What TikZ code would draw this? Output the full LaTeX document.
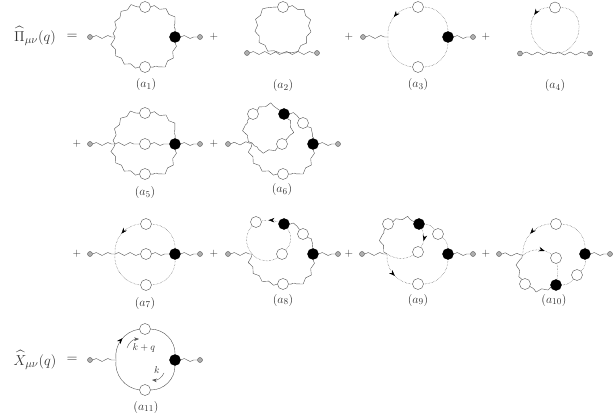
\documentclass[tikz,border=0pt]{standalone}
\usepackage{amsmath}
\usepackage{amssymb}
\usepackage{xcolor}
\usepackage{tikz}
\usetikzlibrary{arrows.meta, decorations.pathmorphing, decorations.markings}
\definecolor{linea}{RGB}{85,85,85}
\definecolor{extgris}{RGB}{175,175,175}

\begin{document}
\begin{tikzpicture}[x=1pt, y=-1pt, >=Stealth, color=linea, line width=.4pt, line join=round,
        gluon/.style={decorate, decoration={snake, segment length=11.5pt, amplitude=1.5pt}},
        ghost/.style={densely dotted, line width=.45pt},
        blob/.style={circle, draw=linea, fill=white, inner sep=0pt, minimum size=11pt},
        vert/.style={circle, draw=black, fill=black, inner sep=0pt, minimum size=11pt},
        ext/.style={circle, draw=linea, fill=extgris, inner sep=0pt, minimum size=5pt},
        lab/.style={text=black!80, font=\fontsize{13}{15}\selectfont, inner sep=0pt},
        eqn/.style={text=black!80, font=\fontsize{15.5}{18}\selectfont, inner sep=0pt},
        tip/.style={postaction={decorate, decoration={markings,
              mark=at position #1 with {\arrow[solid, black]{Stealth[length=6pt, width=4.5pt]}}}}}]
      \useasboundingbox (0,0) rectangle (616,414);

      \node[eqn] (piL) at (35,36) {$\widehat{\Pi}_{\mu\nu}(q)$};
      \node[eqn, font=\fontsize{14}{16}\selectfont] (eqA) at (72,36.5) {$=$};
      \node[eqn] (xL) at (35,360) {$\widehat{X}_{\mu\nu}(q)$};
      \node[eqn, font=\fontsize{14}{16}\selectfont] (eqB) at (72,360) {$=$};

      % labels under the graphs
      \foreach \n/\x/\y/\t in {1/146/85/a_1, 2/283/86/a_2, 3/418/85/a_3, 4/555/86/a_4,
          5/145/193/a_5, 6/282/190/a_6, 7/145/303/a_7, 8/283/300/a_8,
          9/418/300/a_9, 10/554/300/a_{10}, 11/146/407/a_{11}}
        \node[lab] (lab\n) at (\x,\y) {$(\t)$};

      % plus signs
      \foreach \n/\x/\y in {1/214/37, 2/349/37, 3/486/37, 4/77/144, 5/214/144,
          6/77/254, 7/214/254, 8/349/254, 9/486/254}
        \node[lab, font=\fontsize{11}{13}\selectfont] (plus\n) at (\x,\y) {$+$};

      % a1
      \node[ext] (a1i) at (90,37) {};
      \node[ext] (a1o) at (200,37) {};
      \coordinate (a1v) at (115,37);
      \node[vert] (a1d) at (175,37) {};
      \node[blob] (a1t) at (145,7) {};
      \node[blob] (a1b) at (145,67) {};
      \draw[gluon] (a1i) -- (a1v);
      \draw[gluon] (a1d) -- (a1o);
      \draw[gluon] (a1v) to[bend left=45] (a1t);
      \draw[gluon] (a1t) to[bend left=45] (a1d);
      \draw[gluon] (a1d) to[bend left=45] (a1b);
      \draw[gluon] (a1b) to[bend left=45] (a1v);

      % a2
      \node[ext] (a2i) at (247,53) {};
      \node[ext] (a2o) at (317,53) {};
      \coordinate (a2v) at (283,53);
      \node[blob] (a2t) at (283,7) {};
      \draw[gluon] (a2i) -- (a2v);
      \draw[gluon] (a2v) -- (a2o);
      \draw[gluon] (a2v) to[out=180, in=180, looseness=1.55] (a2t);
      \draw[gluon] (a2t) to[out=0, in=0, looseness=1.55] (a2v);

      % a3
      \node[ext] (a3i) at (363,37) {};
      \node[ext] (a3o) at (473,37) {};
      \coordinate (a3v) at (388,37);
      \node[vert] (a3d) at (448,37) {};
      \node[blob] (a3t) at (418,7) {};
      \node[blob] (a3b) at (418,67) {};
      \draw[gluon] (a3i) -- (a3v);
      \draw[gluon] (a3d) -- (a3o);
      \draw[ghost, tip=.5] (a3t) to[bend right=45] (a3v);
      \draw[ghost] (a3t) to[bend left=45] (a3d);
      \draw[ghost] (a3d) to[bend left=45] (a3b);
      \draw[ghost] (a3b) to[bend left=45] (a3v);

      % a4
      \node[ext] (a4i) at (520,53.5) {};
      \node[ext] (a4o) at (590,53.5) {};
      \coordinate (a4v) at (555,53.5);
      \node[blob] (a4t) at (555,7.5) {};
      \draw[gluon] (a4i) -- (a4v);
      \draw[gluon] (a4v) -- (a4o);
      \draw[ghost, tip=.25] (a4t) to[out=180, in=180, looseness=1.55] (a4v);
      \draw[ghost] (a4t) to[out=0, in=0, looseness=1.55] (a4v);

      % a5
      \node[ext] (a5i) at (90,144) {};
      \node[ext] (a5o) at (200,144) {};
      \coordinate (a5v) at (115,144);
      \node[vert] (a5d) at (175,144) {};
      \node[blob] (a5t) at (145,113) {};
      \node[blob] (a5m) at (145,144) {};
      \node[blob] (a5b) at (145,174) {};
      \draw[gluon] (a5i) -- (a5v);
      \draw[gluon] (a5d) -- (a5o);
      \draw[gluon] (a5v) -- (a5m);
      \draw[gluon] (a5m) -- (a5d);
      \draw[gluon] (a5v) to[bend left=45] (a5t);
      \draw[gluon] (a5t) to[bend left=45] (a5d);
      \draw[gluon] (a5d) to[bend left=45] (a5b);
      \draw[gluon] (a5b) to[bend left=45] (a5v);

      % a6
      \node[ext] (a6i) at (228,144) {};
      \node[ext] (a6o) at (338,144) {};
      \coordinate (a6v) at (252,143);
      \node[vert] (a6d) at (313,144) {};
      \node[vert] (a6e) at (284,114) {};
      \node[blob] (a6t) at (253,114) {};
      \node[blob] (a6m) at (282,144) {};
      \node[blob] (a6r) at (303,123) {};
      \node[blob] (a6b) at (283,174) {};
      \draw[gluon] (a6i) -- (a6v);
      \draw[gluon] (a6d) -- (a6o);
      \draw[gluon] (a6v) to[bend left=40] (a6t);
      \draw[gluon] (a6t) to[bend left=40] (a6e);
      \draw[gluon] (a6e) to[bend left=40] (a6m);
      \draw[gluon] (a6m) to[bend left=40] (a6v);
      \draw[gluon] (a6e) to[bend left=25] (a6r);
      \draw[gluon] (a6r) to[bend left=25] (a6d);
      \draw[gluon] (a6d) to[bend left=45] (a6b);
      \draw[gluon] (a6b) to[bend left=45] (a6v);

      % a7
      \node[ext] (a7i) at (90,254) {};
      \node[ext] (a7o) at (200,254) {};
      \coordinate (a7v) at (115,254);
      \node[vert] (a7d) at (175,254) {};
      \node[blob] (a7t) at (146,224) {};
      \node[blob] (a7m) at (146,254) {};
      \node[blob] (a7b) at (146,285) {};
      \draw[gluon] (a7i) -- (a7v);
      \draw[gluon] (a7d) -- (a7o);
      \draw[gluon] (a7v) -- (a7m);
      \draw[gluon] (a7m) -- (a7d);
      \draw[ghost, tip=.5] (a7t) to[bend right=45] (a7v);
      \draw[ghost] (a7t) to[bend left=45] (a7d);
      \draw[ghost] (a7d) to[bend left=45] (a7b);
      \draw[ghost] (a7b) to[bend left=45] (a7v);

      % a8
      \node[ext] (a8i) at (228,254) {};
      \node[ext] (a8o) at (338,254) {};
      \coordinate (a8v) at (252,254);
      \node[vert] (a8d) at (313,254) {};
      \node[vert] (a8e) at (284,224) {};
      \node[blob] (a8t) at (256,222) {};
      \node[blob] (a8m) at (282,254) {};
      \node[blob] (a8r) at (303,234) {};
      \node[blob] (a8b) at (283,284) {};
      \draw[gluon] (a8i) -- (a8v);
      \draw[gluon] (a8d) -- (a8o);
      \draw[ghost] (a8v) to[bend left=40] (a8t);
      \draw[ghost, tip=.6] (a8e) to[bend right=15] (a8t);
      \draw[ghost] (a8e) to[bend left=40] (a8m);
      \draw[ghost] (a8m) to[bend left=40] (a8v);
      \draw[gluon] (a8e) to[bend left=25] (a8r);
      \draw[gluon] (a8r) to[bend left=25] (a8d);
      \draw[gluon] (a8d) to[bend left=45] (a8b);
      \draw[gluon] (a8b) to[bend left=45] (a8v);

      % a9
      \node[ext] (a9i) at (362,254) {};
      \node[ext] (a9o) at (473,254) {};
      \coordinate (a9v) at (387,254);
      \node[vert] (a9d) at (448,254) {};
      \node[vert] (a9e) at (419,224) {};
      \node[blob] (a9t) at (388,224) {};
      \node[blob] (a9m) at (418,252) {};
      \node[blob] (a9r) at (438,234) {};
      \node[blob] (a9b) at (418,284) {};
      \draw[gluon] (a9i) -- (a9v);
      \draw[gluon] (a9d) -- (a9o);
      \draw[gluon] (a9v) to[bend left=30] (a9t);
      \draw[gluon] (a9t) to[bend left=25] (a9e);
      \draw[ghost, tip=.65] (a9e) to[bend left=30] (a9m);
      \draw[ghost] (a9m) to[bend left=30] (a9v);
      \draw[ghost] (a9e) to[bend left=25] (a9r);
      \draw[ghost] (a9r) to[bend left=25] (a9d);
      \draw[ghost] (a9d) to[bend left=45] (a9b);
      \draw[ghost, tip=.55] (a9v) to[bend right=45] (a9b);

      % a10
      \node[ext] (a10i) at (499,254) {};
      \node[ext] (a10o) at (610,254) {};
      \coordinate (a10v) at (523,255);
      \node[vert] (a10d) at (585,254) {};
      \node[vert] (a10e) at (556,285) {};
      \node[blob] (a10t) at (556,224) {};
      \node[blob] (a10m) at (556,258) {};
      \node[blob] (a10r) at (577,275) {};
      \node[blob] (a10l) at (525,284) {};
      \draw[gluon] (a10i) -- (a10v);
      \draw[gluon] (a10d) -- (a10o);
      \draw[ghost, tip=.5] (a10t) to[bend right=45] (a10v);
      \draw[ghost] (a10t) to[bend left=45] (a10d);
      \draw[ghost] (a10d) to[bend left=25] (a10r);
      \draw[ghost] (a10r) to[bend left=25] (a10e);
      \draw[gluon] (a10e) to[bend left=25] (a10l);
      \draw[gluon] (a10l) to[bend left=30] (a10v);
      \draw[ghost, tip=.75] (a10v) to[bend left=35] (a10m);
      \draw[ghost] (a10m) to[bend left=10] (a10e);

      % a11
      \node[ext] (a11i) at (90,360) {};
      \node[ext] (a11o) at (200,360) {};
      \coordinate (a11v) at (116,360);
      \node[vert] (a11d) at (175,360) {};
      \node[blob] (a11t) at (145,329) {};
      \node[blob] (a11b) at (145,390) {};
      \draw[gluon] (a11i) -- (a11v);
      \draw[gluon] (a11d) -- (a11o);
      \draw[tip=.55] (a11v) to[bend left=45] (a11t);
      \draw (a11t) to[bend left=45] (a11d);
      \draw (a11d) to[bend left=45] (a11b);
      \draw (a11b) to[bend left=45] (a11v);

      % momentum routing
      \node[lab, font=\normalsize] (kq) at (144,348) {$k+q$};
      \node[lab, font=\normalsize] (kk) at (157,370) {$k$};
      \coordinate (p1) at (127,348);
      \coordinate (p2) at (139,339);
      \coordinate (p3) at (164,373);
      \coordinate (p4) at (152,380);
      \draw[->] (p1) to[bend left=35] (p2);
      \draw[->] (p3) to[bend left=35] (p4);
    \end{tikzpicture}
\end{document}
